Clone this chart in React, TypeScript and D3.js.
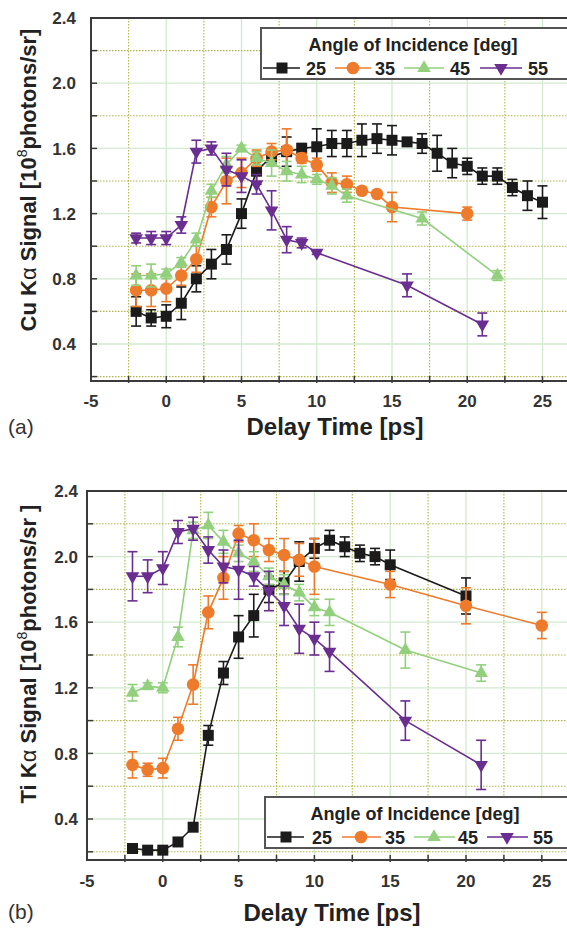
import React from 'react';
import * as d3 from 'd3';

// [delay (ps), signal (1e8 photons/sr), error]
const cu25: [number, number, number][] = [
  [-2, 0.60, 0.09], [-1, 0.56, 0.05], [0, 0.57, 0.07], [1, 0.65, 0.10], [2, 0.80, 0.08],
  [3, 0.89, 0.09], [4, 0.98, 0.09], [5, 1.20, 0.09], [6, 1.46, 0.08], [7, 1.55, 0.04],
  [8, 1.58, 0.09], [9, 1.60, 0.03], [10, 1.61, 0.11], [11, 1.63, 0.08], [12, 1.63, 0.08],
  [13, 1.65, 0.10], [14, 1.66, 0.09], [15, 1.65, 0.09], [16, 1.64, 0.02], [17, 1.63, 0.06],
  [18, 1.57, 0.11], [19, 1.51, 0.09], [20, 1.49, 0.05], [21, 1.43, 0.05], [22, 1.43, 0.05],
  [23, 1.36, 0.05], [24, 1.31, 0.09], [25, 1.27, 0.10],
];
const cu35: [number, number, number][] = [
  [-2, 0.73, 0.10], [-1, 0.73, 0.10], [0, 0.74, 0.08], [1, 0.82, 0.06], [2, 0.92, 0.08],
  [3, 1.24, 0.06], [4, 1.40, 0.14], [5, 1.45, 0.09], [6, 1.54, 0.05], [7, 1.58, 0.05],
  [8, 1.59, 0.13], [9, 1.54, 0.03], [10, 1.50, 0.04], [11, 1.39, 0.06], [12, 1.38, 0.05],
  [13, 1.34, 0.02], [14, 1.32, 0.02], [15, 1.24, 0.09], [20, 1.20, 0.04],
];
const cu45: [number, number, number][] = [
  [-2, 0.82, 0.06], [-1, 0.82, 0.07], [0, 0.83, 0.03], [1, 0.90, 0.03], [2, 1.04, 0.04],
  [3, 1.34, 0.04], [4, 1.50, 0.05], [5, 1.60, 0.02], [6, 1.54, 0.04], [7, 1.51, 0.08],
  [8, 1.46, 0.06], [9, 1.44, 0.05], [10, 1.41, 0.03], [11, 1.37, 0.05], [12, 1.31, 0.04],
  [17, 1.17, 0.04], [22, 0.82, 0.03],
];
const cu55: [number, number, number][] = [
  [-2, 1.05, 0.03], [-1, 1.05, 0.04], [0, 1.05, 0.04], [1, 1.13, 0.05], [2, 1.58, 0.07],
  [3, 1.60, 0.04], [4, 1.47, 0.10], [5, 1.43, 0.10], [6, 1.38, 0.06], [7, 1.22, 0.12],
  [8, 1.04, 0.08], [9, 1.02, 0.03], [10, 0.96, 0.01], [16, 0.76, 0.07], [21, 0.52, 0.07],
];

const ti25: [number, number, number][] = [
  [-2, 0.22, 0.01], [-1, 0.21, 0.01], [0, 0.21, 0.01], [1, 0.26, 0.02], [2, 0.35, 0.02],
  [3, 0.91, 0.06], [4, 1.29, 0.07], [5, 1.51, 0.13], [6, 1.64, 0.13], [7, 1.80, 0.08],
  [8, 1.84, 0.07], [9, 1.97, 0.12], [10, 2.05, 0.06], [11, 2.10, 0.06], [12, 2.06, 0.06],
  [13, 2.02, 0.05], [14, 2.00, 0.05], [15, 1.95, 0.09], [20, 1.76, 0.11],
];
const ti35: [number, number, number][] = [
  [-2, 0.73, 0.08], [-1, 0.70, 0.04], [0, 0.71, 0.06], [1, 0.95, 0.07], [2, 1.22, 0.12],
  [3, 1.66, 0.10], [4, 1.87, 0.13], [5, 2.14, 0.05], [6, 2.10, 0.10], [7, 2.04, 0.07],
  [8, 2.01, 0.10], [9, 1.98, 0.10], [10, 1.94, 0.17], [15, 1.83, 0.08], [20, 1.70, 0.11],
  [25, 1.58, 0.08],
];
const ti45: [number, number, number][] = [
  [-2, 1.17, 0.05], [-1, 1.21, 0.02], [0, 1.20, 0.03], [1, 1.51, 0.06], [2, 2.16, 0.05],
  [3, 2.19, 0.08], [4, 2.09, 0.07], [5, 2.02, 0.05], [6, 1.97, 0.06], [7, 1.88, 0.05],
  [8, 1.83, 0.06], [9, 1.78, 0.05], [10, 1.69, 0.05], [11, 1.66, 0.08], [16, 1.43, 0.11],
  [21, 1.29, 0.05],
];
const ti55: [number, number, number][] = [
  [-2, 1.88, 0.15], [-1, 1.88, 0.10], [0, 1.93, 0.10], [1, 2.15, 0.07], [2, 2.17, 0.07],
  [3, 2.04, 0.08], [4, 1.94, 0.10], [5, 1.92, 0.18], [6, 1.88, 0.06], [7, 1.79, 0.12],
  [8, 1.70, 0.12], [9, 1.56, 0.15], [10, 1.50, 0.10], [11, 1.42, 0.12], [16, 1.00, 0.12],
  [21, 0.73, 0.15],
];

const angleLabels = ['25', '35', '45', '55'];
const xTickLabels = ['-5', '0', '5', '10', '15', '20', '25'];
const yTickLabels = ['0.4', '0.8', '1.2', '1.6', '2.0', '2.4'];

const COLORS = ['#1b1b1b', '#ee7b2c', '#92d07e', '#6a2d90'];
const SHAPES = ['square', 'circle', 'up', 'down'];

const W = 567;
const H = 929;

function symbolPath(shape: string) {
  if (shape === 'square') return d3.symbol().type(d3.symbolSquare).size(121)() as string;
  if (shape === 'circle') return d3.symbol().type(d3.symbolCircle).size(125)() as string;
  return d3.symbol().type(d3.symbolTriangle).size(80)() as string;
}

function Marker({ shape, x, y, color }: { shape: string; x: number; y: number; color: string }) {
  const rot = shape === 'down' ? ' rotate(180)' : '';
  return <path d={symbolPath(shape)} transform={`translate(${x},${y})${rot}`} fill={color} />;
}

type PanelProps = {
  left: number; top: number; bottom: number; yMin: number; xUnit: number;
  labelEnd: number; xLabelBase: number; xTitleX: number; xTitleBase: number;
  yTitleX: number; yTitleY: number; element: string; tag: string; tagBase: number;
  legend: { x: number; y: number; h: number; titleBase: number; rowY: number;
    items: { l0: number; l1: number; m: number; t: number }[] };
  series: [number, number, number][][];
};

function Panel(p: PanelProps) {
  const x = d3.scaleLinear().domain([-5, 30]).range([p.left, p.left + 35 * p.xUnit]);
  const y = d3.scaleLinear().domain([p.yMin, 2.4]).range([p.bottom, p.top]);
  const right = W;
  const xGrid = d3.range(-2.5, 30, 2.5);
  const yGrid = d3.range(0.2, 2.39, 0.2);
  const line = d3.line<[number, number, number]>().x(d => x(d[0])).y(d => y(d[1]));
  const bold = { fontFamily: 'Liberation Sans, Arial, sans-serif', fontWeight: 'bold' as const };
  return (
    <g>
      {/* grid */}
      {xGrid.map((v, i) => {
        const major = Math.abs(v % 5) < 1e-6;
        const xx = x(v);
        if (xx > right) return null;
        return <line key={'gx' + i} x1={xx} x2={xx} y1={p.top} y2={p.bottom}
          stroke={major ? '#d2eacf' : '#b0b548'} strokeWidth={major ? 1.3 : 1.1}
          strokeDasharray={major ? undefined : '1.5,1.5'} />;
      })}
      {yGrid.map((v, i) => {
        const major = Math.abs((v / 0.4) - Math.round(v / 0.4)) < 1e-6;
        const yy = y(v);
        return <line key={'gy' + i} x1={p.left} x2={right} y1={yy} y2={yy}
          stroke={major ? '#d2eacf' : '#b0b548'} strokeWidth={major ? 1.3 : 1.1}
          strokeDasharray={major ? undefined : '1.5,1.5'} />;
      })}
      {/* ticks */}
      {yGrid.map((v, i) => (
        <line key={'ty' + i} x1={p.left} x2={p.left + 6} y1={y(v)} y2={y(v)} stroke="#3a3a3a" strokeWidth={1.5} />
      ))}
      {xGrid.map((v, i) => x(v) < right ? (
        <line key={'tx' + i} x1={x(v)} x2={x(v)} y1={p.bottom - 5} y2={p.bottom + 2} stroke="#3a3a3a" strokeWidth={1.5} />
      ) : null)}
      {/* frame */}
      <path d={`M${right},${p.top}H${p.left}V${p.bottom}H${right}`} fill="none" stroke="#3a3a3a" strokeWidth={2} />
      {/* tick labels */}
      {yTickLabels.map(t => (
        <text key={'yl' + t} x={p.labelEnd} y={y(+t)} dy="0.36em" textAnchor="end" fontSize={17} fill="#333" {...bold}>{t}</text>
      ))}
      {xTickLabels.map(t => (
        <text key={'xl' + t} x={x(+t)} y={p.xLabelBase} textAnchor="middle" fontSize={17} fill="#333" {...bold}>{t}</text>
      ))}
      {/* titles */}
      <text x={p.xTitleX} y={p.xTitleBase} textAnchor="middle" fontSize={24} fill="#222" {...bold}>Delay Time [ps]</text>
      <text transform={`translate(${p.yTitleX},${p.yTitleY}) rotate(-90)`} textAnchor="middle" fontSize={22} fill="#222" {...bold}>
        <tspan>{p.element} K</tspan><tspan fontWeight="normal">α</tspan><tspan> Signal [10</tspan>
        <tspan dy={-9} fontSize={14} fontWeight="normal">8</tspan>
        <tspan dy={9}>photons/sr{p.element === 'Ti' ? ' ' : ''}]</tspan>
      </text>
      <text x={8} y={p.tagBase} fontSize={21} fill="#333" fontFamily="Liberation Sans, Arial, sans-serif">{p.tag}</text>
      {/* data */}
      {p.series.map((s, si) => (
        <g key={'s' + si}>
          <path d={line(s) as string} fill="none" stroke={COLORS[si]} strokeWidth={1.6} />
          {s.map((d, i) => {
            const cx = x(d[0]);
            const y1 = y(d[1] + d[2]);
            const y2 = y(d[1] - d[2]);
            return (
              <g key={i} stroke={COLORS[si]} strokeWidth={1.6}>
                <line x1={cx} x2={cx} y1={y1} y2={y2} />
                <line x1={cx - 5} x2={cx + 5} y1={y1} y2={y1} />
                <line x1={cx - 5} x2={cx + 5} y1={y2} y2={y2} />
              </g>
            );
          })}
          {s.map((d, i) => (
            <Marker key={'m' + i} shape={SHAPES[si]} x={x(d[0])} y={y(d[1])} color={COLORS[si]} />
          ))}
        </g>
      ))}
      {/* legend */}
      <rect x={p.legend.x} y={p.legend.y} width={W - p.legend.x + 10} height={p.legend.h}
        fill="#fff" stroke="#555" strokeWidth={2} />
      <text x={(p.legend.x + 565) / 2} y={p.legend.titleBase} textAnchor="middle" fontSize={18} fill="#222" {...bold}>
        Angle of Incidence [deg]
      </text>
      {p.legend.items.map((it, i) => (
        <g key={'lg' + i}>
          <line x1={it.l0} x2={it.l1} y1={p.legend.rowY} y2={p.legend.rowY} stroke={COLORS[i]} strokeWidth={1.6} />
          <Marker shape={SHAPES[i]} x={it.m} y={p.legend.rowY} color={COLORS[i]} />
          <text x={it.t} y={p.legend.rowY + 6.5} fontSize={18} fill="#222" {...bold}>{angleLabels[i]}</text>
        </g>
      ))}
    </g>
  );
}

export default function App() {
  return (
    <svg width={W} height={H} style={{ position: 'absolute', left: 0, top: 0, background: '#fff' }}>
      <rect width={W} height={H} fill="#fff" />
      <Panel left={91} top={18} bottom={381} yMin={0.173} xUnit={15.05}
        labelEnd={76} xLabelBase={407} xTitleX={335} xTitleBase={435}
        yTitleX={36} yTitleY={180} element="Cu" tag="(a)" tagBase={434}
        legend={{ x: 261, y: 28, h: 51, titleBase: 51, rowY: 68,
          items: [
            { l0: 263, l1: 300, m: 282, t: 306 },
            { l0: 335, l1: 371, m: 353, t: 375 },
            { l0: 404, l1: 444, m: 424, t: 450 },
            { l0: 480, l1: 522, m: 501, t: 528 },
          ] }}
        series={[cu25, cu35, cu45, cu55]} />
      <Panel left={87} top={491} bottom={860} yMin={0.15} xUnit={15.16}
        labelEnd={78} xLabelBase={887} xTitleX={332} xTitleBase={921}
        yTitleX={36} yTitleY={654} element="Ti" tag="(b)" tagBase={919}
        legend={{ x: 265, y: 797, h: 51, titleBase: 820, rowY: 837,
          items: [
            { l0: 267, l1: 304, m: 286, t: 312 },
            { l0: 342, l1: 381, m: 361, t: 385 },
            { l0: 414, l1: 455, m: 434, t: 458 },
            { l0: 487, l1: 528, m: 507, t: 533 },
          ] }}
        series={[ti25, ti35, ti45, ti55]} />
    </svg>
  );
}
